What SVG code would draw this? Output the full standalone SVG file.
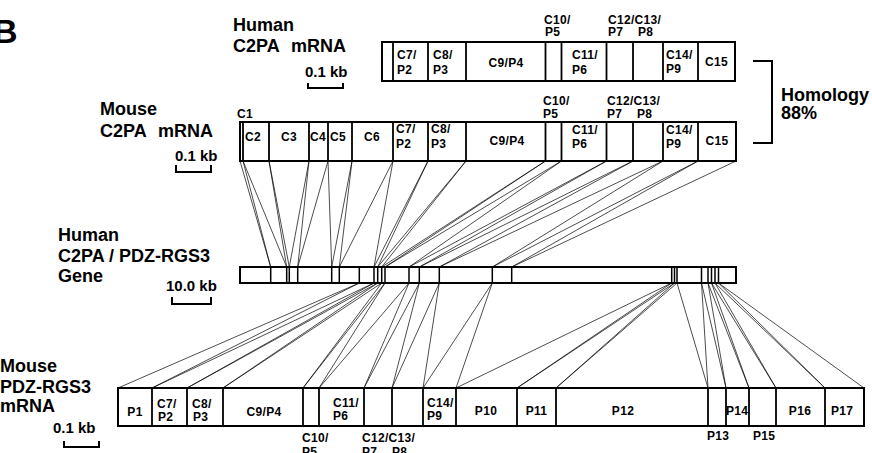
<svg xmlns="http://www.w3.org/2000/svg" width="872" height="453" viewBox="0 0 872 453">
<style>
.bar{fill:#fff;stroke:#000;stroke-width:2}
.dv{fill:none;stroke:#000;stroke-width:1.8}
.gdv{fill:none;stroke:#000;stroke-width:1.5}
.conn line{stroke:#000;stroke-width:0.7}
.sc{fill:none;stroke:#000;stroke-width:2}
text{font-family:"Liberation Sans",Arial,Helvetica,sans-serif;font-weight:bold;fill:#000}
.s{font-size:12px;letter-spacing:0.3px}
.m{text-anchor:middle}
.big{font-size:18px}
.kb{font-size:15px}
</style>
<rect width="872" height="453" fill="#fff"/>
<text x="-7" y="43" style="font-size:34px">B</text>

<g id="connectors" class="conn">
<line x1="240" y1="161" x2="270.7" y2="267"/>
<line x1="243" y1="161" x2="270.7" y2="267"/>
<line x1="243" y1="161" x2="286.7" y2="267"/>
<line x1="269" y1="161" x2="286.7" y2="267"/>
<line x1="269" y1="161" x2="289.3" y2="267"/>
<line x1="309" y1="161" x2="289.3" y2="267"/>
<line x1="309" y1="161" x2="297.7" y2="267"/>
<line x1="328" y1="161" x2="297.7" y2="267"/>
<line x1="328" y1="161" x2="331.7" y2="267"/>
<line x1="352" y1="161" x2="331.7" y2="267"/>
<line x1="352" y1="161" x2="339.3" y2="267"/>
<line x1="393" y1="161" x2="339.3" y2="267"/>
<line x1="393" y1="161" x2="374" y2="267"/>
<line x1="428" y1="161" x2="374" y2="267"/>
<line x1="428" y1="161" x2="377.7" y2="267"/>
<line x1="466" y1="161" x2="377.7" y2="267"/>
<line x1="466" y1="161" x2="381.7" y2="267"/>
<line x1="545.5" y1="161" x2="381.7" y2="267"/>
<line x1="545.5" y1="161" x2="385" y2="267"/>
<line x1="561.5" y1="161" x2="385" y2="267"/>
<line x1="561.5" y1="161" x2="409" y2="267"/>
<line x1="606.5" y1="161" x2="409" y2="267"/>
<line x1="606.5" y1="161" x2="419.3" y2="267"/>
<line x1="633" y1="161" x2="419.3" y2="267"/>
<line x1="633" y1="161" x2="439.3" y2="267"/>
<line x1="663" y1="161" x2="439.3" y2="267"/>
<line x1="663" y1="161" x2="492.3" y2="267"/>
<line x1="698" y1="161" x2="492.3" y2="267"/>
<line x1="698" y1="161" x2="511.7" y2="267"/>
<line x1="736" y1="161" x2="511.7" y2="267"/>

<line x1="359.3" y1="283" x2="118" y2="388"/>
<line x1="359.3" y1="283" x2="152" y2="388"/>
<line x1="374" y1="283" x2="152" y2="388"/>
<line x1="374" y1="283" x2="187" y2="388"/>
<line x1="377.7" y1="283" x2="187" y2="388"/>
<line x1="377.7" y1="283" x2="223" y2="388"/>
<line x1="381.7" y1="283" x2="223" y2="388"/>
<line x1="381.7" y1="283" x2="303" y2="388"/>
<line x1="385" y1="283" x2="303" y2="388"/>
<line x1="385" y1="283" x2="319" y2="388"/>
<line x1="409" y1="283" x2="319" y2="388"/>
<line x1="409" y1="283" x2="364" y2="388"/>
<line x1="419.3" y1="283" x2="364" y2="388"/>
<line x1="419.3" y1="283" x2="392" y2="388"/>
<line x1="439.3" y1="283" x2="392" y2="388"/>
<line x1="439.3" y1="283" x2="423" y2="388"/>
<line x1="492.3" y1="283" x2="423" y2="388"/>
<line x1="492.3" y1="283" x2="456" y2="388"/>
<line x1="671.7" y1="283" x2="456" y2="388"/>
<line x1="671.7" y1="283" x2="517" y2="388"/>
<line x1="674.5" y1="283" x2="517" y2="388"/>
<line x1="674.5" y1="283" x2="556" y2="388"/>
<line x1="677" y1="283" x2="556" y2="388"/>
<line x1="677" y1="283" x2="708" y2="388"/>
<line x1="701.5" y1="283" x2="708" y2="388"/>
<line x1="701.5" y1="283" x2="726" y2="388"/>
<line x1="708" y1="283" x2="726" y2="388"/>
<line x1="708" y1="283" x2="749" y2="388"/>
<line x1="711.5" y1="283" x2="749" y2="388"/>
<line x1="711.5" y1="283" x2="776" y2="388"/>
<line x1="715" y1="283" x2="776" y2="388"/>
<line x1="715" y1="283" x2="825" y2="388"/>
<line x1="718.5" y1="283" x2="825" y2="388"/>
<line x1="718.5" y1="283" x2="864" y2="388"/>
</g>

<g id="human-c2pa-mrna">
<text class="big" x="233" y="31">Human</text>
<text class="big" x="233" y="51.5">C2PA<tspan x="291">mRNA</tspan></text>
<text class="kb" x="305" y="77">0.1 kb</text>
<path class="sc" d="M308,83 V88 H343 V83"/>
<rect class="bar" x="382" y="42" width="353" height="39"/>
<path class="dv" d="M393,42V81M428,42V81M466,42V81M545.5,42V81M561.5,42V81M606.5,42V81M633,42V81M663,42V81M698,42V81"/>
<text class="s" x="397" y="59">C7/</text><text class="s" x="397" y="74">P2</text>
<text class="s" x="433" y="59">C8/</text><text class="s" x="433" y="74">P3</text>
<text class="s m" x="506" y="67">C9/P4</text>
<text class="s" x="572" y="59">C11/</text><text class="s" x="572" y="74">P6</text>
<text class="s" x="666" y="59">C14/</text><text class="s" x="666" y="73">P9</text>
<text class="s m" x="716.5" y="66">C15</text>
<text class="s" x="544" y="23.5">C10/</text><text class="s" x="545" y="36">P5</text>
<text class="s" x="608" y="23.5">C12/C13/</text><text class="s" x="608" y="36">P7</text><text class="s" x="638" y="36">P8</text>
</g>

<g id="homology">
<path class="sc" d="M753,61 H772 V143 H753"/>
<text class="big" x="781" y="101">Homology</text>
<text class="big" x="781" y="119">88%</text>
</g>

<g id="mouse-c2pa-mrna">
<text class="big" x="100" y="115">Mouse</text>
<text class="big" x="100" y="136.5">C2PA<tspan x="158">mRNA</tspan></text>
<text class="kb" x="175" y="161">0.1 kb</text>
<path class="sc" d="M176,165 V172 H211 V165"/>
<rect class="bar" x="240" y="122" width="496" height="39"/>
<path class="dv" d="M243,122V161M269,122V161M309,122V161M328,122V161M352,122V161M393,122V161M428,122V161M466,122V161M545.5,122V161M561.5,122V161M606.5,122V161M633,122V161M663,122V161M698,122V161"/>
<text class="s" x="237" y="118">C1</text>
<text class="s" x="245" y="141">C2</text>
<text class="s m" x="289" y="141">C3</text>
<text class="s" x="310" y="141">C4</text>
<text class="s" x="330" y="141">C5</text>
<text class="s m" x="372" y="141">C6</text>
<text class="s" x="396" y="133">C7/</text><text class="s" x="396" y="148">P2</text>
<text class="s" x="431" y="133">C8/</text><text class="s" x="431" y="148">P3</text>
<text class="s m" x="507" y="145">C9/P4</text>
<text class="s" x="572" y="134">C11/</text><text class="s" x="572" y="148">P6</text>
<text class="s" x="666" y="134">C14/</text><text class="s" x="666" y="148">P9</text>
<text class="s m" x="717" y="145">C15</text>
<text class="s" x="543" y="105">C10/</text><text class="s" x="543" y="117.5">P5</text>
<text class="s" x="607" y="105">C12/C13/</text><text class="s" x="607" y="117.5">P7</text><text class="s" x="637" y="117.5">P8</text>
</g>

<g id="human-gene">
<text class="big" x="58" y="240.5">Human</text>
<text class="big" x="58" y="261.5">C2PA / PDZ-RGS3</text>
<text class="big" x="58" y="281.5">Gene</text>
<text class="kb" x="166" y="291">10.0 kb</text>
<path class="sc" d="M172,297 V304 H211 V297"/>
<rect class="bar" x="240" y="267" width="496" height="16"/>
<path class="gdv" d="M270.7,267V283M286.7,267V283M289.3,267V283M297.7,267V283M331.7,267V283M339.3,267V283M359.3,267V283M374,267V283M377.7,267V283M381.7,267V283M385,267V283M409,267V283M419.3,267V283M439.3,267V283M492.3,267V283M511.7,267V283M671.7,267V283M674.5,267V283M677,267V283M701.5,267V283M708,267V283M711.5,267V283M715,267V283M718.5,267V283"/>
</g>

<g id="mouse-pdz-rgs3-mrna">
<text class="big" x="0" y="371.5">Mouse</text>
<text class="big" x="0" y="393">PDZ-RGS3</text>
<text class="big" x="0" y="411.5">mRNA</text>
<text class="kb" x="53" y="433">0.1 kb</text>
<path class="sc" d="M64,441 V447 H99 V441"/>
<rect class="bar" x="118" y="388" width="746" height="38"/>
<path class="dv" d="M152,388V426M187,388V426M223,388V426M303,388V426M319,388V426M364,388V426M392,388V426M423,388V426M456,388V426M517,388V426M556,388V426M708,388V426M726,388V426M749,388V426M776,388V426M825,388V426"/>
<text class="s m" x="135" y="416">P1</text>
<text class="s" x="157" y="408">C7/</text><text class="s" x="158" y="421">P2</text>
<text class="s" x="192" y="408">C8/</text><text class="s" x="193" y="421">P3</text>
<text class="s m" x="264" y="416">C9/P4</text>
<text class="s" x="333" y="406.5">C11/</text><text class="s" x="333" y="420">P6</text>
<text class="s" x="427" y="406.5">C14/</text><text class="s" x="427" y="420">P9</text>
<text class="s m" x="486" y="414.5">P10</text>
<text class="s m" x="536.5" y="414.5">P11</text>
<text class="s m" x="623" y="414.5">P12</text>
<text class="s" x="726" y="414.5">P14</text>
<text class="s m" x="800" y="414.5">P16</text>
<text class="s" x="831" y="414.5">P17</text>
<text class="s" x="302" y="442">C10/</text><text class="s" x="302" y="456">P5</text>
<text class="s" x="362" y="442">C12/C13/</text><text class="s" x="362" y="456">P7</text><text class="s" x="392" y="456">P8</text>
<text class="s" x="707" y="440">P13</text>
<text class="s" x="753" y="440">P15</text>
</g>
</svg>
